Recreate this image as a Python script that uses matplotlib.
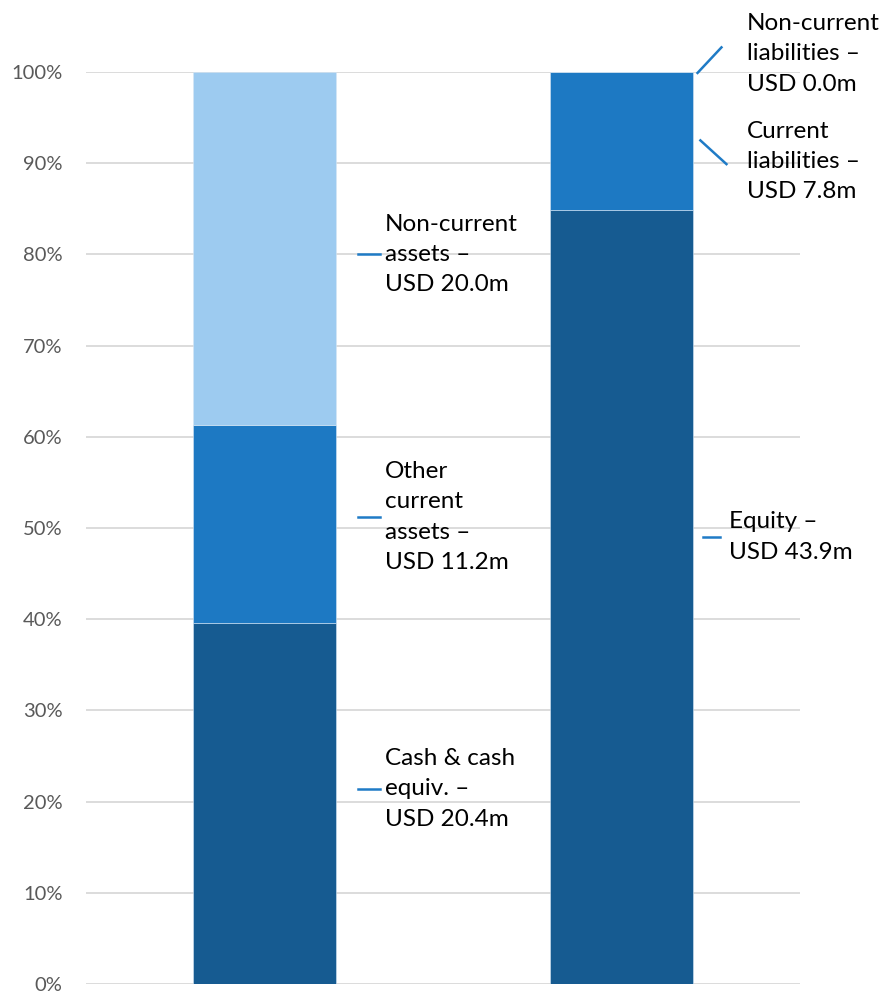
import numpy as np
from matplotlib import pyplot as plt

# balance sheet, USD m
categories = ['Assets', 'Liabilities & equity']
asset_names = ['Cash & cash\nequiv.', 'Other\ncurrent\nassets', 'Non-current\nassets']
asset_values = [20.4, 11.2, 20.0]
liab_names = ['Equity', 'Current\nliabilities', 'Non-current\nliabilities']
liab_values = [43.9, 7.8, 0.0]
colors = ['#165B91', '#1D79C3', '#9DCBF0']
ticks = [0, 10, 20, 30, 40, 50, 60, 70, 80, 90, 100]

plt.rcParams['font.family'] = ['Lato', 'DejaVu Sans']

fig = plt.figure(figsize=(8.82, 9.94), dpi=100)
ax = fig.add_axes([86 / 882, 10 / 994, 714 / 882, 912 / 994])

asset_pct = np.array(asset_values) / sum(asset_values) * 100
liab_pct = np.array(liab_values) / sum(liab_values) * 100

bottom = 0
for v, c in zip(asset_pct, colors):
    ax.bar(0, v, bottom=bottom, width=0.4, color=c, edgecolor='#D6E6F4', linewidth=0.4, zorder=2)
    bottom += v
bottom = 0
for v, c in zip(liab_pct, colors):
    ax.bar(1, v, bottom=bottom, width=0.4, color=c, edgecolor='#D6E6F4', linewidth=0.4, zorder=2)
    bottom += v

ax.set_xlim(-0.5, 1.5)
ax.set_ylim(0, 100)
ax.set_yticks(ticks)
ax.set_yticklabels([f'{t}%' for t in ticks])
ax.set_xticks([])
ax.yaxis.grid(True, color='#D9D9D9', linewidth=1.3, zorder=0)
ax.set_axisbelow(True)
for s in ax.spines.values():
    s.set_visible(False)
ax.tick_params(axis='y', length=0, pad=17, labelsize=14.5, labelcolor='#595959')

line_col = '#1F7BC6'
fs = 17.5
ls = 1.55

def usd(v):
    return f'USD {v:.1f}m'

# left bar labels: text y in percent
left_y = [21.4, 51.2, 80.0]
for name, v, y in zip(asset_names, asset_values, left_y):
    ax.plot([0.262, 0.323], [y, y], color=line_col, lw=1.8, zorder=3)
    ax.text(0.3375, y, f'{name} –\n{usd(v)}', ha='left', va='center', fontsize=fs,
            linespacing=ls, color='black')

# right bar labels
ax.plot([1.228, 1.276], [49.0, 49.0], color=line_col, lw=1.8, zorder=3)
ax.text(1.301, 49.0, f'{liab_names[0]} –\n{usd(liab_values[0])}', ha='left', va='center',
        fontsize=fs, linespacing=ls)

ax.plot([1.221, 1.294], [92.5, 89.9], color=line_col, lw=1.8, zorder=3, clip_on=False)
ax.text(1.352, 90.2, f'{liab_names[1]} –\n{usd(liab_values[1])}', ha='left', va='center',
        fontsize=fs, linespacing=ls)

ax.plot([1.213, 1.280], [99.9, 102.7], color=line_col, lw=1.8, zorder=3, clip_on=False)
ax.text(1.352, 102.0, f'{liab_names[2]} –\n{usd(liab_values[2])}', ha='left', va='center',
        fontsize=fs, linespacing=ls, clip_on=False)

plt.savefig('out.png', dpi=100)
